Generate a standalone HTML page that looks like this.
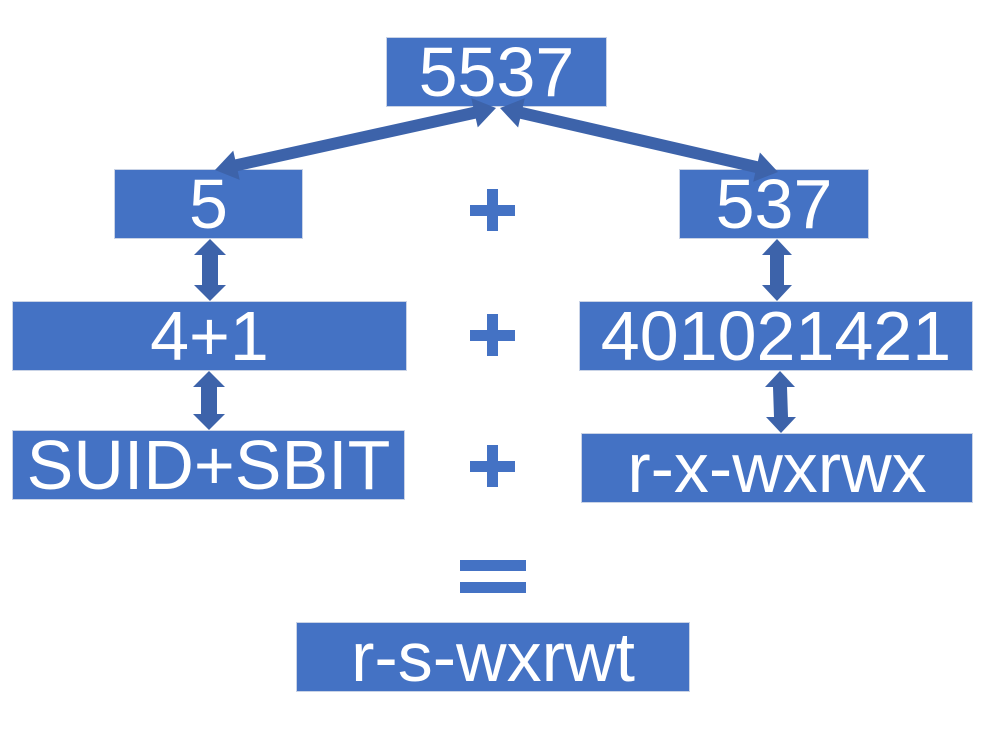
<!DOCTYPE html>
<html><head><meta charset="utf-8"><style>
html,body{margin:0;padding:0;background:#fff;}
body{width:999px;height:743px;position:relative;overflow:hidden;font-family:"Liberation Sans",sans-serif;}
.b{position:absolute;background:#4472C4;color:#fff;font-size:70px;line-height:68px;text-align:center;height:68px;box-shadow:0 0 0 1px #c9d3e6;}
svg{position:absolute;left:0;top:0;}
</style></head><body>
<div class="b" style="left:387px;top:38px;width:219px;">5537</div>
<div class="b" style="left:115px;top:170px;width:187px;">5</div>
<div class="b" style="left:680px;top:170px;width:188px;">537</div>
<div class="b" style="left:13px;top:302px;width:393px;">4+1</div>
<div class="b" style="left:580px;top:302px;width:392px;">401021421</div>
<div class="b" style="left:13px;top:431px;width:391px;">SUID+SBIT</div>
<div class="b" style="left:582px;top:434px;width:390px;">r-x-wxrwx</div>
<div class="b" style="left:297px;top:623px;width:392px;">r-s-wxrwt</div>
<svg width="999" height="743">
<g fill="#3D63AA">
<polygon points="496,108 471.3,98.1 473.2,106.9 235.2,159.4 233.25,150.6 215,170 239.7,179.9 237.8,171.1 475.8,118.6 477.75,127.4"/>
<polygon points="500,108 524.8,98.3 522.8,107.1 757.9,161.2 759.9,152.45 778,172 753.2,181.7 755.2,172.9 520.1,118.8 518.1,127.55"/>
<polygon points="210,239 226,255 218,255 218,285 226,285 210,301 194,285 202,285 202,255 194,255"/>
<polygon points="209,371 225,387 217,387 217,414 225,414 209,430 193,414 201,414 201,387 193,387"/>
<polygon points="777,239 792,255 784,255 784,285 792,285 777,301 762,285 770,285 770,255 762,255"/>
<polygon points="780,371 795,387 787,387 788,417 796,417 781,433 766,417 774,417 773,387 765,387"/>
</g>
<g fill="#4472C4">
<rect x="470" y="205" width="45" height="11"/><rect x="487" y="189" width="11" height="42"/>
<rect x="470" y="330" width="45" height="11"/><rect x="487" y="314" width="11" height="42"/>
<rect x="470" y="461" width="45" height="11"/><rect x="487" y="445" width="11" height="42"/>
<rect x="460" y="560" width="66" height="11"/><rect x="460" y="582" width="66" height="11"/>
</g>
</svg>
</body></html>
